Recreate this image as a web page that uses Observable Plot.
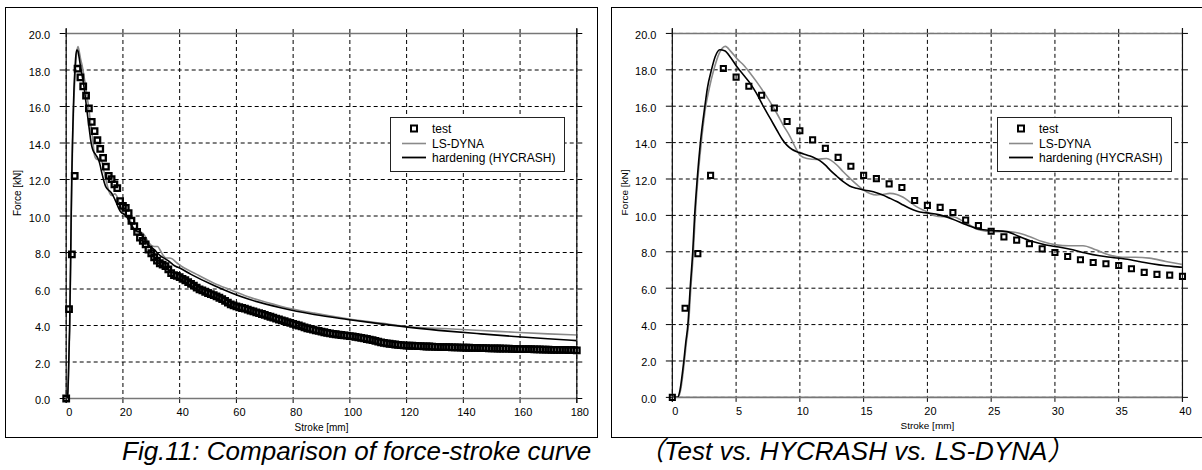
<!DOCTYPE html>
<html>
<head>
<meta charset="utf-8">
<script src="https://cdn.jsdelivr.net/npm/d3@7"></script>
<script src="https://cdn.jsdelivr.net/npm/@observablehq/plot@0.6"></script>
<style>
  html, body { margin: 0; padding: 0; background: #fff; }
  body { width: 1202px; height: 470px; overflow: hidden; position: relative; font-family: "Liberation Sans", Arial, sans-serif; }
  .frame { position: absolute; top: 7px; width: 593px; height: 431px; border: 1px solid #000; box-sizing: border-box; }
  .plot { position: absolute; top: 7px; }
  .legend { position: absolute; top: 117px; width: 175px; height: 55px; border: 1px solid #222; background: #fff; box-sizing: border-box; z-index: 5; }
  .legend svg { position: absolute; left: 0; top: 0; }
  #caption { position: absolute; left: 0; top: 0; z-index: 6; }
</style>
</head>
<body>
<div class="frame" style="left:5px"></div>
<div class="frame" style="left:611px"></div>
<div class="plot" id="p1" style="left:5px"></div>
<div class="plot" id="p2" style="left:611.7px"></div>
<div class="legend" id="lg1" style="left:390px"></div>
<div class="legend" id="lg2" style="left:997px"></div>
<svg id="caption" width="1202" height="470"></svg>
<script>
// ---------- data ----------
const legendLabels = ["test", "LS-DYNA", "hardening (HYCRASH)"];
const captionLeft = "Fig.11: Comparison of force-stroke curve";
const captionRight = "（Test vs. HYCRASH vs. LS-DYNA）";
const xLabel = "Stroke [mm]";
const yLabel = "Force [kN]";

const xTicksLeft = [0, 20, 40, 60, 80, 100, 120, 140, 160, 180];
const xTicksRight = [0, 5, 10, 15, 20, 25, 30, 35, 40];
const yTicks = [0, 2, 4, 6, 8, 10, 12, 14, 16, 18, 20];

// test (squares)
const testStroke = [0,1,2,3,4,5,6,7,8,9,10,11,12,13,14,15,16,17,18,19,20,21,22,23,24,25,26,27,28,29,30,
  31,32,33,34,35,36,37,38,39,40,41,42,43,44,45,46,47,48,49,50,51,52,53,54,55,56,57,58,59,60,
  61,62,63,64,65,66,67,68,69,70,71,72,73,74,75,76,77,78,79,80,81,82,83,84,85,86,87,88,89,90,
  91,92,93,94,95,96,97,98,99,100,101,102,103,104,105,106,107,108,109,110,111,112,113,114,115,116,117,118,119,120,
  121,122,123,124,125,126,127,128,129,130,131,132,133,134,135,136,137,138,139,140,141,142,143,144,145,146,147,148,149,150,
  151,152,153,154,155,156,157,158,159,160,161,162,163,164,165,166,167,168,169,170,171,172,173,174,175,176,177,178,179,180];
const testForce = [0,4.9,7.9,12.2,18.07,17.6,17.1,16.6,15.9,15.16,14.65,14.15,13.68,13.19,12.7,12.2,12.02,11.73,11.53,10.82,10.55,
  10.44,10.16,9.74,9.44,9.13,8.82,8.64,8.44,8.16,7.96,7.74,7.56,7.41,7.34,7.25,7.07,6.87,6.76,6.72,6.65,
  6.56,6.48,6.38,6.28,6.18,6.08,5.98,5.92,5.85,5.78,5.72,5.66,5.6,5.52,5.44,5.35,5.25,5.16,5.1,5.05,
  5.0,4.96,4.92,4.87,4.82,4.77,4.72,4.68,4.63,4.58,4.53,4.48,4.43,4.38,4.33,4.28,4.24,4.19,4.14,4.09,
  4.04,4.0,3.95,3.9,3.85,3.81,3.77,3.73,3.7,3.66,3.63,3.6,3.57,3.54,3.52,3.5,3.48,3.46,3.44,3.42,
  3.4,3.38,3.35,3.32,3.29,3.26,3.23,3.2,3.16,3.12,3.08,3.05,3.02,3.0,2.98,2.96,2.94,2.92,2.91,2.9,
  2.89,2.89,2.88,2.87,2.87,2.86,2.85,2.85,2.84,2.83,2.83,2.82,2.82,2.81,2.81,2.8,2.8,2.8,2.79,2.79,
  2.78,2.78,2.77,2.77,2.77,2.76,2.76,2.76,2.75,2.75,2.75,2.74,2.74,2.73,2.73,2.73,2.72,2.72,2.71,2.71,
  2.71,2.7,2.7,2.7,2.69,2.69,2.69,2.68,2.68,2.68,2.67,2.67,2.67,2.66,2.66,2.66,2.65,2.65,2.65,2.64];

// LS-DYNA (gray line)
const lsStroke = [0,0.45,0.65,0.85,0.95,1.1,1.27,1.45,1.65,1.8,2.0,2.27,2.62,2.9,3.25,3.7,4.16,4.6,5.08,5.6,6.12,6.6,
  7.16,7.7,8.2,8.7,9.24,9.6,10.02,10.55,11.33,12.1,12.5,12.9,13.4,13.93,14.45,14.97,15.5,16.0,16.5,17.05,
  17.6,18.1,18.6,19.14,19.9,20.5,21.2,22,23.05,24.1,25.1,26.2,26.95,28,29,30.1,31.1,32.2,33.2,34.2,
  35.3,36.3,37.4,38.7,39.8,46,52.1,58,63.9,75.6,87.4,99.2,110.9,122.7,134.5,146.2,158,169.8,180];
const lsForce = [0,0,0.4,1.4,2,3,4,6,8,10,12,14,16,17,18,18.95,19.29,19.0,18.6,18.25,17.8,17.35,
  16.78,16.2,15.6,14.95,14.32,13.8,13.3,13.13,13.08,13.13,13.0,12.77,12.4,12.04,11.7,11.4,11.2,11.12,11.15,11.21,
  11.15,11.0,10.75,10.48,10.21,10.0,9.93,9.93,9.57,9.2,9.11,9.11,9.06,8.84,8.56,8.38,8.33,8.33,8.11,7.84,
  7.7,7.7,7.65,7.47,7.33,6.8,6.32,5.95,5.59,5.06,4.68,4.37,4.13,3.9,3.82,3.73,3.63,3.54,3.48];

// hardening (HYCRASH) (black line)
const hyStroke = [0,0.4,0.6,0.8,0.9,1.05,1.22,1.4,1.6,1.75,1.95,2.2,2.55,2.75,3.07,3.35,3.72,4.1,4.6,5.08,
  5.6,6.12,6.6,7.16,7.7,8.2,8.6,8.98,9.4,9.77,10.3,10.8,11.2,11.59,12.0,12.37,12.9,13.4,13.9,14.45,
  15.0,15.5,16.0,16.5,17.0,17.6,18.1,18.6,19.2,19.66,20.2,20.96,22,23.05,24.1,25.1,26.2,27.2,28.25,29.3,
  30.3,31.4,32.4,33.5,34.5,35.5,36.6,37.6,38.7,39.8,44,52.1,63.9,75.6,87.4,99.2,110.9,122.7,134.5,146.2,
  158,169.8,180];
const hyForce = [0,0,0.4,1.4,2.0,3.0,4.0,6.0,8.0,10.0,12,14,16,17,18,18.7,19.1,19.05,18.65,18.15,
  17.7,17.24,16.7,15.96,15.3,14.68,14.2,13.86,13.62,13.5,13.38,13.26,13.14,13.0,12.76,12.49,12.15,11.85,11.62,11.49,
  11.4,11.34,11.25,11.12,10.96,10.76,10.57,10.39,10.23,10.16,10.12,10.03,9.79,9.48,9.24,9.17,9.11,8.84,8.56,8.37,
  8.26,8.11,7.93,7.78,7.69,7.6,7.47,7.34,7.23,7.16,6.8,6.19,5.46,4.97,4.6,4.33,4.09,3.87,3.69,3.54,
  3.4,3.27,3.17];

// ---------- build ----------
const zip = (xs, ys) => xs.map((s, i) => ({s, f: ys[i]}));
const testData = zip(testStroke, testForce);
const lsData = zip(lsStroke, lsForce);
const hyData = zip(hyStroke, hyForce);

const GRAY = "#8a8a8a";

function panel(xmax, xTicks, mL, mR, sqR, sqW) {
  const test = testData.filter(d => d.s <= xmax);
  return Plot.plot({
    width: 592, height: 430,
    marginLeft: mL, marginRight: mR, marginTop: 26, marginBottom: 39,
    x: {domain: [0, xmax]},
    y: {domain: [0, 20]},
    style: {fontFamily: "'Liberation Sans', Arial, sans-serif", fontSize: "11px", background: "transparent", overflow: "visible", color: "#000"},
    marks: [
      Plot.ruleX(xTicks, {stroke: "#000", strokeWidth: 1, strokeDasharray: "4,3"}),
      Plot.ruleY(yTicks, {stroke: "#000", strokeWidth: 1, strokeDasharray: "4,3"}),
      Plot.axisX({anchor: "bottom", ticks: xTicks, tickSize: 5, tickFormat: () => "", label: null}),
      Plot.axisX({anchor: "bottom", ticks: xTicks, tickSize: 0, tickPadding: 10, dx: 3, fontSize: 11, label: null}),
      Plot.axisX({anchor: "top", ticks: xTicks, tickSize: 5, tickFormat: () => "", label: null}),
      Plot.axisY({anchor: "left", ticks: yTicks, tickSize: 6, tickFormat: () => "", label: null}),
      Plot.axisY({anchor: "left", ticks: yTicks, tickSize: 0, tickPadding: 16, dy: 2, fontSize: 11, tickFormat: d3.format(".1f"), label: null}),
      Plot.axisY({anchor: "right", ticks: yTicks, tickSize: 5, tickFormat: () => "", label: null}),
      Plot.ruleY([0, 20], {stroke: "#777", strokeWidth: 1.6}),
      Plot.ruleX([0, xmax], {stroke: "#111", strokeWidth: 1.2, insetTop: -5, insetBottom: -5}),
      Plot.line(lsData, {x: "s", y: "f", stroke: GRAY, strokeWidth: 1.6, curve: "monotone-x", clip: true}),
      Plot.line(hyData, {x: "s", y: "f", stroke: "#000", strokeWidth: 1.6, curve: "monotone-x", clip: true}),
      Plot.dot(test, {x: "s", y: "f", symbol: "square", r: sqR, stroke: "#000", strokeWidth: sqW, fill: "none"}),
      Plot.text([yLabel], {text: d => d, frameAnchor: "left", rotate: -90, dx: -48, fontSize: 10}),
      Plot.text([xLabel], {text: d => d, frameAnchor: "bottom", dy: 32, fontSize: 10})
    ]
  });
}

document.getElementById("p1").appendChild(panel(180, xTicksLeft, 60.7, 20.7, 3.1, 2.3));
document.getElementById("p2").appendChild(panel(40, xTicksRight, 60, 20.4, 2.9, 2.0));

function legend(id) {
  const el = document.getElementById(id);
  const svg = d3.select(el).append("svg").attr("width", 175).attr("height", 55)
    .style("font-family", "'Liberation Sans', Arial, sans-serif").style("font-size", "12px");
  const rows = [10.5, 25.5, 39.5];
  svg.append("rect").attr("x", 20).attr("y", rows[0] - 3).attr("width", 6).attr("height", 6)
    .attr("fill", "none").attr("stroke", "#000").attr("stroke-width", 2);
  svg.append("line").attr("x1", 11).attr("x2", 35).attr("y1", rows[1]).attr("y2", rows[1]).attr("stroke", GRAY).attr("stroke-width", 1.6);
  svg.append("line").attr("x1", 11).attr("x2", 35).attr("y1", rows[2]).attr("y2", rows[2]).attr("stroke", "#000").attr("stroke-width", 1.8);
  legendLabels.forEach((t, i) => {
    svg.append("text").attr("x", 41).attr("y", rows[i]).attr("dy", "0.35em").text(t);
  });
}
legend("lg1");
legend("lg2");

const cap = d3.select("#caption").style("font-family", "'Liberation Sans', Arial, 'Noto Sans CJK JP', sans-serif")
  .style("font-style", "italic").style("font-size", "26px");
cap.append("text").attr("x", 122).attr("y", 460).text(captionLeft);
cap.append("text").attr("x", 638).attr("y", 460).text(captionRight);
</script>
</body>
</html>
